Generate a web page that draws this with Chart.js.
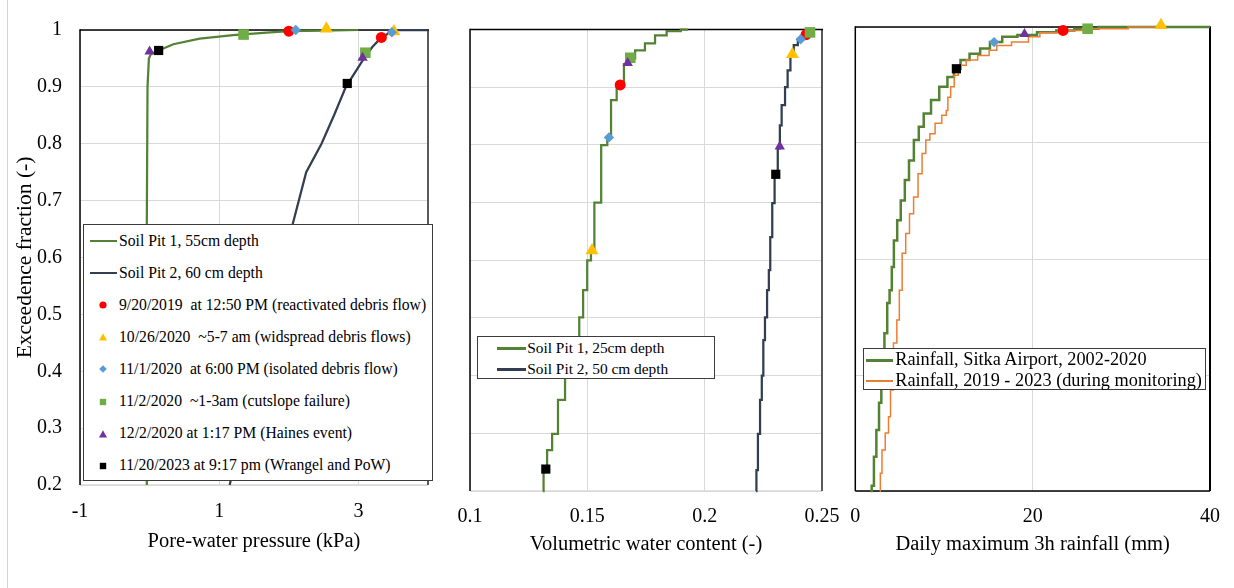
<!DOCTYPE html>
<html>
<head>
<meta charset="utf-8">
<script src="https://cdn.jsdelivr.net/npm/chart.js@4.4.0/dist/chart.umd.min.js"></script>
<style>
  body { margin: 0; background: #fff; }
  #wrap { position: relative; width: 1234px; height: 588px; overflow: hidden; background: #fff;
          font-family: "Liberation Serif", "Times New Roman", serif; color: #000; }
  canvas { position: absolute; left: 0; top: 0; }
  .frame { position: absolute; left: 7px; top: 0; width: 1px; height: 588px; background: #d4d4d4; }
  .legend { position: absolute; background: #fff; border: 1.5px solid #3c3c3c; box-sizing: border-box; }
  .row { position: absolute; left: 0; white-space: pre; }
  .sym { position: absolute; }
</style>
</head>
<body>
<div id="wrap">
  <div class="frame"></div>
  <canvas id="c1" width="1234" height="588"></canvas>
  <canvas id="c2" width="1234" height="588"></canvas>
  <canvas id="c3" width="1234" height="588"></canvas>
</div>
<script>
// ---- data ----
const yTicksFine = [0.2, 0.3, 0.4, 0.5, 0.6, 0.7, 0.8, 0.9, 1];
const yTicksCoarse = [0.2, 0.4, 0.6, 0.8, 1];
const p1XTicks = [-1, 1, 3];
const p2XTicks = [0.1, 0.15, 0.2, 0.25];
const p3XTicks = [0, 20, 40];

const eventNames = [
  '9/20/2019  at 12:50 PM (reactivated debris flow)',
  '10/26/2020  ~5-7 am (widspread debris flows)',
  '11/1/2020  at 6:00 PM (isolated debris flow)',
  '11/2/2020  ~1-3am (cutslope failure)',
  '12/2/2020 at 1:17 PM (Haines event)',
  '11/20/2023 at 9:17 pm (Wrangel and PoW)'
];
const eventColors = ['#FF0000', '#FFC000', '#5B9BD5', '#70AD47', '#7030A0', '#000000'];
const eventStyles = ['circle', 'triangle', 'rectRot', 'rect', 'triangle', 'rect'];
const eventRadius = [5.5, 7.5, 5.2, 7.5, 6, 6.5];

// panel 1: pore-water pressure (kPa)
const p1Names = ['Soil Pit 1, 55cm depth', 'Soil Pit 2, 60 cm depth'];
const p1Pit1X = [-0.04, -0.04, -0.03, -0.01, 0.02, 0.13, 0.34, 0.72, 1.2, 1.68, 2.0, 2.5, 3.0];
const p1Pit1Y = [0.2, 0.66, 0.9, 0.95, 0.958, 0.964, 0.975, 0.985, 0.991, 0.9955, 0.998, 0.999, 1.0];
const p1Pit2X = [1.15, 1.45, 1.74, 2.05, 2.25, 2.47, 2.65, 2.82, 2.95, 3.08, 3.2, 3.33, 3.45, 3.58, 4.0];
const p1Pit2Y = [0.2, 0.35, 0.5, 0.656, 0.75, 0.8, 0.85, 0.9, 0.925, 0.95, 0.97, 0.987, 0.995, 1.0, 1.0];
const p1EventX = [[2.0, 3.33], [2.54, 3.51], [2.10, 3.48], [1.35, 3.10], [0.0, 3.06], [0.13, 2.84]];
const p1EventY = [[0.998, 0.987], [1.002, 0.9975], [1.0, 0.996], [0.992, 0.96], [0.962, 0.951], [0.964, 0.906]];

// panel 2: volumetric water content (-)
const p2Names = ['Soil Pit 1, 25cm depth', 'Soil Pit 2, 50 cm depth'];
const p2Pit1X = [0.131, 0.1317, 0.134, 0.136, 0.139, 0.142, 0.1455, 0.1476, 0.1488, 0.1511, 0.152, 0.154,
                 0.1578, 0.1592, 0.161, 0.164, 0.1672, 0.1683, 0.1724, 0.1767, 0.181, 0.1866, 0.193];
const p2Pit1Y = [0.2, 0.236, 0.271, 0.299, 0.358, 0.4, 0.4615, 0.501, 0.548, 0.6, 0.614, 0.7,
                 0.7995, 0.813, 0.8775, 0.904, 0.94, 0.95, 0.964, 0.976, 0.99, 0.997, 1.0];
const p2Pit2X = [0.2219, 0.2222, 0.2232, 0.224, 0.2247, 0.2253, 0.2261, 0.2271, 0.2276, 0.2283, 0.2293, 0.2303,
                 0.232, 0.2321, 0.2335, 0.235, 0.2357, 0.2374, 0.2385, 0.2409, 0.2432, 0.2449, 0.247];
const p2Pit2Y = [0.2, 0.236, 0.299, 0.358, 0.4, 0.4615, 0.501, 0.548, 0.583, 0.64, 0.699, 0.749,
                 0.794, 0.834, 0.869, 0.9, 0.929, 0.954, 0.973, 0.983, 0.992, 0.995, 1.0];
const p2EventX = [[0.164, 0.2432], [0.152, 0.2374], [0.1592, 0.2409], [0.1683, 0.2449], [0.1672, 0.232], [0.1323, 0.2303]];
const p2EventY = [[0.904, 0.991], [0.617, 0.957], [0.813, 0.983], [0.951, 0.995], [0.942, 0.797], [0.238, 0.749]];

// panel 3: daily maximum 3h rainfall (mm)
const p3Names = ['Rainfall, Sitka Airport, 2002-2020', 'Rainfall, 2019 - 2023 (during monitoring)'];
const sitkaX = [1.7, 2.0, 2.2, 2.55, 2.8, 3.07, 3.5, 3.7, 4.03, 4.2, 4.5, 4.95, 5.3, 5.87, 6.24, 6.97, 7.35, 8.08,
                9.0, 9.93, 10.85, 11.4, 12.33, 13.44, 14.72, 15.65, 17.49, 19.08, 21.9, 23.43, 25.97, 28.9, 40];
const sitkaY = [0.2, 0.209, 0.259, 0.305, 0.352, 0.403, 0.472, 0.524, 0.546, 0.586, 0.632, 0.667, 0.701, 0.736, 0.77, 0.805, 0.828, 0.851,
                0.874, 0.897, 0.914, 0.928, 0.943, 0.954, 0.963, 0.974, 0.983, 0.986, 0.991, 0.994, 0.997, 1.0, 1.0];
const monX = [2.73, 2.92, 3.1, 3.65, 3.84, 4.1, 4.5, 4.87, 5.06, 5.5, 5.87, 6.35, 6.8, 7.35, 7.71, 8.19, 8.63,
              9.37, 10.12, 10.4, 10.48, 11.03, 11.29, 11.95, 13.06, 14.54, 15.65, 16.27, 18.97, 20.08, 21.55, 24.13, 27.08, 34.47];
const monY = [0.2, 0.2305, 0.2707, 0.3, 0.328, 0.374, 0.455, 0.495, 0.546, 0.61, 0.644, 0.678, 0.707, 0.747, 0.782, 0.805, 0.816,
              0.834, 0.848, 0.856, 0.879, 0.897, 0.917, 0.934, 0.943, 0.951, 0.96, 0.968, 0.974, 0.983, 0.99, 0.994, 0.997, 1.0];
const p3EventX = [[23.43], [34.47], [15.65], [26.2], [19.08], [11.4]];
const p3EventY = [[0.994], [1.003], [0.974], [0.997], [0.988], [0.928]];

const GREEN = '#548235', NAVY = '#333F50', ORANGE = '#ED7D31';

// ---- chart setup ----
Chart.defaults.font.family = '"Liberation Serif", "Times New Roman", serif';
Chart.defaults.color = '#000';

const framePlugin = {
  id: 'frame',
  beforeDatasetsDraw(chart, args, o) {
    const {left, top, right, bottom} = chart.chartArea;
    const ctx = chart.ctx;
    const side = (c, w, x1, y1, x2, y2) => {
      ctx.strokeStyle = c; ctx.lineWidth = w;
      ctx.beginPath(); ctx.moveTo(x1, y1); ctx.lineTo(x2, y2); ctx.stroke();
    };
    ctx.save();
    side(o.bottom, 1.5, left, bottom, right, bottom);
    side(o.right, 2, right, top, right, bottom);
    side(o.left, 1.5, left, top - 0.75, left, bottom);
    side(o.top, 1.5, left, top, right + 1, top);
    ctx.restore();
  }
};

const fmt = v => String(Math.round(v * 1000) / 1000);
const fixedTicks = values => scale => { scale.ticks = values.map(v => ({value: v})); };

function lineSet(xs, ys, color, width, order, stepped) {
  return {data: xs.map((x, i) => ({x, y: ys[i]})), showLine: true, borderColor: color, borderWidth: width,
          pointRadius: 0, clip: false, order, stepped: stepped || false};
}
function eventSets(xs, ys) {
  return eventNames.map((n, i) => ({
    label: n, data: xs[i].map((x, j) => ({x, y: ys[i][j]})), showLine: false,
    pointStyle: eventStyles[i], pointRadius: eventRadius[i], backgroundColor: eventColors[i],
    borderColor: eventColors[i], borderWidth: 0, clip: false, order: 6 - i
  }));
}

function panel(id, p) {
  const H = 70;
  return new Chart(document.getElementById(id), {
    type: 'scatter',
    data: {datasets: p.datasets},
    options: {
      responsive: false, animation: false, events: [],
      layout: {padding: {left: p.l - p.yw, top: p.t, right: 1234 - p.r, bottom: 588 - p.b - H}},
      plugins: {legend: {display: false}, tooltip: {enabled: false}, frame: p.frame},
      scales: {
        x: {
          type: 'linear', min: p.xmin, max: p.xmax,
          afterBuildTicks: fixedTicks(p.xticks), afterFit: s => { s.height = H; },
          grid: {color: '#d9d9d9', drawTicks: false}, border: {display: false},
          ticks: {font: {size: 20}, padding: p.xpad, callback: fmt, maxRotation: 0, autoSkip: false},
          title: {display: true, text: p.xtitle, font: {size: 20.5}, padding: {top: 0, bottom: p.tpad}}
        },
        y: {
          type: 'linear', min: 0.2, max: 1,
          afterBuildTicks: fixedTicks(p.yticks), afterFit: s => { s.width = p.yw; },
          grid: {color: '#d9d9d9', drawTicks: false}, border: {display: false},
          ticks: {display: p.ylabels, font: {size: 20}, padding: 18, callback: fmt, autoSkip: false},
          title: {display: p.ylabels, text: 'Exceedence fraction (-)', font: {size: 21.5}, padding: {top: 12, bottom: 0}}
        }
      }
    },
    plugins: [framePlugin]
  });
}

panel('c1', {
  l: 80, t: 30, r: 428, b: 485, yw: 80, xmin: -1, xmax: 4, xticks: p1XTicks, yticks: yTicksFine,
  xpad: 15, tpad: 1, ylabels: true, xtitle: 'Pore-water pressure (kPa)',
  frame: {top: '#000', left: '#000', right: '#595959', bottom: '#d9d9d9'},
  datasets: [lineSet(p1Pit1X, p1Pit1Y, GREEN, 2.25, 11), lineSet(p1Pit2X, p1Pit2Y, NAVY, 2.25, 10)]
    .concat(eventSets(p1EventX, p1EventY))
});
panel('c2', {
  l: 470, t: 29.5, r: 822, b: 491, yw: 30, xmin: 0.1, xmax: 0.25, xticks: p2XTicks, yticks: yTicksFine,
  xpad: 14, tpad: 3.7, ylabels: false, xtitle: 'Volumetric water content (-)',
  frame: {top: '#000', left: '#000', right: '#595959', bottom: '#d9d9d9'},
  datasets: [lineSet(p2Pit1X, p2Pit1Y, GREEN, 2.25, 11, 'middle'), lineSet(p2Pit2X, p2Pit2Y, NAVY, 2.25, 10, 'middle')]
    .concat(eventSets(p2EventX, p2EventY))
});
panel('c3', {
  l: 855.3, t: 27, r: 1216.7, b: 491, yw: 30, xmin: 0, xmax: 40, xticks: p3XTicks, yticks: yTicksCoarse,
  xpad: 14, tpad: 3.7, ylabels: false, xtitle: 'Daily maximum 3h rainfall (mm)',
  frame: {top: '#000', left: '#000', right: '#000', bottom: '#000'},
  datasets: [lineSet(sitkaX, sitkaY, GREEN, 2.5, 11, 'middle'), lineSet(monX, monY, ORANGE, 1.5, 10, 'middle')]
    .concat(eventSets(p3EventX, p3EventY))
});

// ---- legends (html text) ----
function markerSvg(i) {
  const c = eventColors[i], s = eventStyles[i];
  let shape;
  if (s === 'circle') shape = `<circle cx="5" cy="5" r="3.6" fill="${c}"/>`;
  else if (s === 'triangle') shape = `<polygon points="5,1.2 9,8.6 1,8.6" fill="${c}"/>`;
  else if (s === 'rectRot') shape = `<polygon points="5,1.2 8.8,5 5,8.8 1.2,5" fill="${c}"/>`;
  else shape = `<rect x="1.8" y="1.8" width="6.4" height="6.4" fill="${c}"/>`;
  return `<svg width="10" height="10">${shape}</svg>`;
}

function legend(box, rows) {
  const el = document.createElement('div');
  el.className = 'legend';
  Object.assign(el.style, {left: box.x + 'px', top: box.y + 'px', width: box.w + 'px', height: box.h + 'px'});
  rows.forEach((r, i) => {
    const cy = box.first + i * box.gap;
    if (r.line) {
      const ln = document.createElement('div');
      ln.className = 'sym';
      Object.assign(ln.style, {left: box.lx1 + 'px', width: (box.lx2 - box.lx1) + 'px', top: (cy - 1.25) + 'px',
                               height: r.lw + 'px', background: r.line});
      el.appendChild(ln);
    } else {
      const mk = document.createElement('div');
      mk.className = 'sym';
      mk.innerHTML = markerSvg(r.marker);
      Object.assign(mk.style, {left: (box.mx - 5) + 'px', top: (cy - 5) + 'px', width: '10px', height: '10px', lineHeight: 0});
      el.appendChild(mk);
    }
    const t = document.createElement('div');
    t.className = 'row';
    t.textContent = r.text;
    Object.assign(t.style, {left: box.tx + 'px', top: (cy - box.fs * 0.6) + 'px', fontSize: box.fs + 'px',
                            lineHeight: (box.fs * 1.2) + 'px'});
    el.appendChild(t);
  });
  document.getElementById('wrap').appendChild(el);
}

legend({x: 83, y: 224, w: 350, h: 257, first: 16, gap: 32.1, lx1: 6, lx2: 33, mx: 18.5, tx: 35, fs: 15.7},
  [{line: GREEN, lw: 2.5, text: p1Names[0]}, {line: NAVY, lw: 2.5, text: p1Names[1]}]
    .concat(eventNames.map((n, i) => ({marker: i, text: n}))));
legend({x: 476.7, y: 336, w: 238.6, h: 43.3, first: 11.3, gap: 21.4, lx1: 19.5, lx2: 48, tx: 49.5, fs: 15.4},
  [{line: GREEN, lw: 2.5, text: p2Names[0]}, {line: NAVY, lw: 2.5, text: p2Names[1]}]);
legend({x: 862.7, y: 347.7, w: 343.3, h: 42.3, first: 11.6, gap: 20.7, lx1: 2.5, lx2: 29.5, tx: 31.5, fs: 18.3},
  [{line: GREEN, lw: 2.5, text: p3Names[0]}, {line: ORANGE, lw: 1.8, text: p3Names[1]}]);
</script>
</body>
</html>
